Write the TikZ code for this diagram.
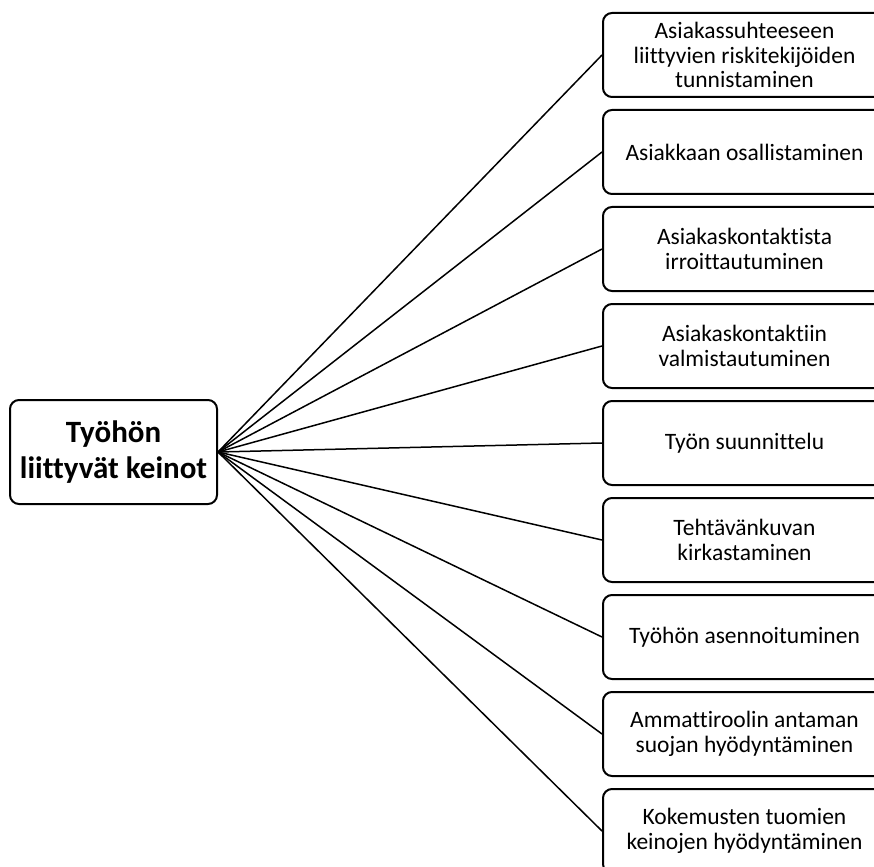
\documentclass[tikz,border=0pt]{standalone}
\usepackage{fontspec}
\setmainfont{Carlito}[Ligatures={NoCommon}]
\begin{document}
\begin{tikzpicture}[x=1pt,y=-1pt,
  leaf/.style={draw, line width=2pt, rounded corners=9pt, minimum width=283pt, minimum height=84pt, align=center, inner sep=0pt, font=\fontsize{23.5}{24.5}\selectfont},
  root/.style={draw, line width=2pt, rounded corners=9pt, minimum width=207pt, minimum height=104pt, align=center, inner sep=0pt, font=\fontsize{31}{36.5}\selectfont\bfseries},
  conn/.style={line width=1.5pt}]
\useasboundingbox (0,0) rectangle (874,866);
\node[root] (r) at (113.5,452) {Työhön\\liittyvät keinot};
\node[leaf] (n1) at (744.5,55) {Asiakassuhteeseen\\liittyvien riskitekijöiden\\tunnistaminen};
\node[leaf] (n2) at (744.5,152) {Asiakkaan osallistaminen};
\node[leaf] (n3) at (744.5,249) {Asiakaskontaktista\\irroittautuminen};
\node[leaf] (n4) at (744.5,346) {Asiakaskontaktiin\\valmistautuminen};
\node[leaf] (n5) at (744.5,443) {Työn suunnittelu};
\node[leaf] (n6) at (744.5,540) {Tehtävänkuvan\\kirkastaminen};
\node[leaf] (n7) at (744.5,637) {Työhön asennoituminen};
\node[leaf] (n8) at (744.5,734) {Ammattiroolin antaman\\suojan hyödyntäminen};
\node[leaf] (n9) at (744.5,831) {Kokemusten tuomien\\keinojen hyödyntäminen};
\foreach \i in {1,...,9}{\draw[conn] (r.east) -- (n\i.west);}
\end{tikzpicture}
\end{document}
